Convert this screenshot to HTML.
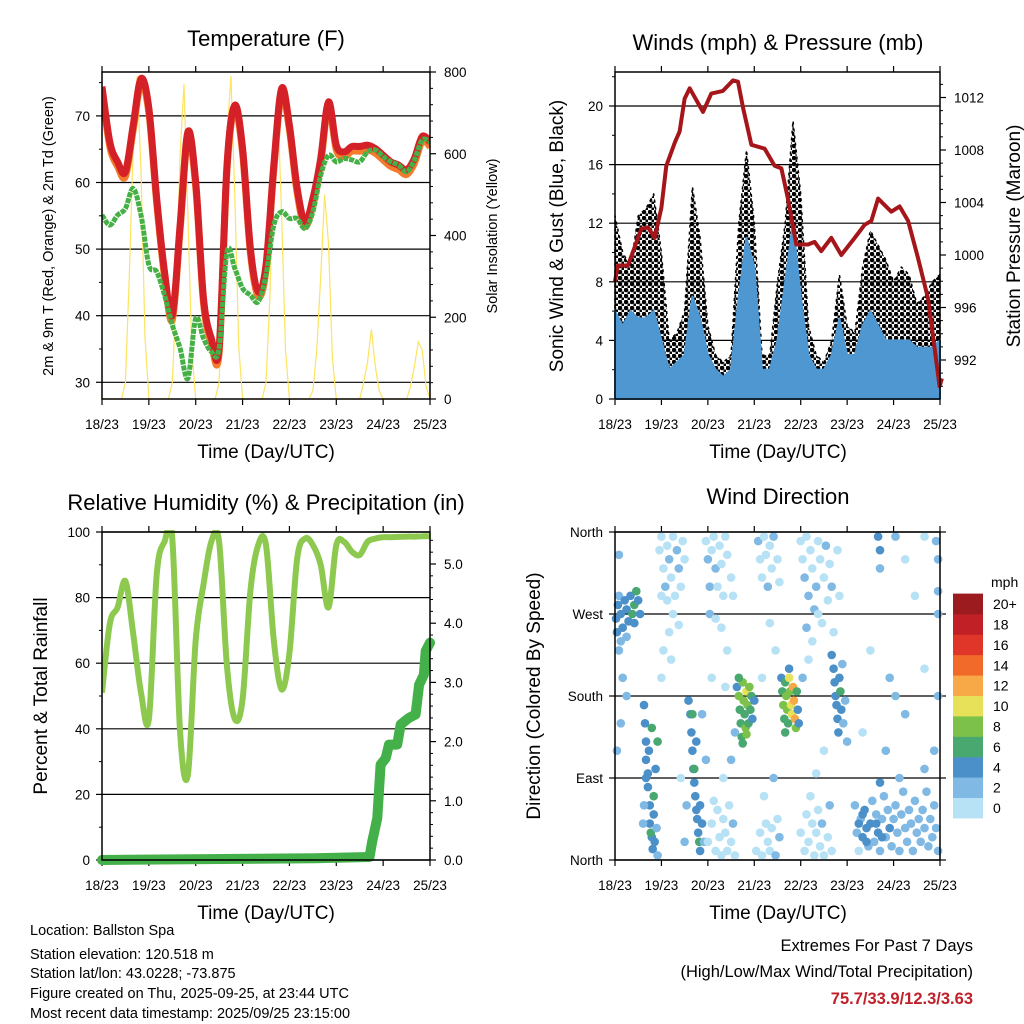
<!DOCTYPE html>
<html><head><meta charset="utf-8">
<style>
html,body{margin:0;padding:0;background:#fff;}
svg{display:block;font-family:"Liberation Sans",sans-serif;}
</style></head>
<body>
<svg id="chart" width="1024" height="1024" viewBox="0 0 1024 1024" xmlns="http://www.w3.org/2000/svg">
<defs>
<pattern id="dots" width="6" height="6" patternUnits="userSpaceOnUse">
<circle cx="2" cy="2" r="2.3" fill="#000"/>
<circle cx="5" cy="5" r="1.6" fill="#000"/>
</pattern>
<clipPath id="clipTop"><rect x="102" y="70" width="328" height="331"/></clipPath>
<clipPath id="clipBot"><rect x="102" y="530" width="328" height="331"/></clipPath>
</defs>
<rect width="1024" height="1024" fill="#fff"/>
<g id="p1"></g>
<g id="p2"></g>
<g id="p3"></g>
<g id="p4"></g>
<g font-size="22" text-anchor="middle" fill="#000">
<text x="266" y="46">Temperature (F)</text>
<text x="778" y="50">Winds (mph) &amp; Pressure (mb)</text>
<text x="266" y="510">Relative Humidity (%) &amp; Precipitation (in)</text>
<text x="778" y="504">Wind Direction</text>
</g>
<g font-size="19" text-anchor="middle" fill="#000">
<text x="266" y="458">Time (Day/UTC)</text>
<text x="778" y="458">Time (Day/UTC)</text>
<text x="266" y="919">Time (Day/UTC)</text>
<text x="778" y="919">Time (Day/UTC)</text>
<text transform="translate(53,236) rotate(-90)" font-size="14.5">2m &amp; 9m T (Red, Orange) &amp; 2m Td (Green)</text>
<text transform="translate(497,236) rotate(-90)" font-size="14.5">Solar Insolation (Yellow)</text>
<text transform="translate(563,236) rotate(-90)">Sonic Wind &amp; Gust (Blue, Black)</text>
<text transform="translate(1020,236) rotate(-90)">Station Pressure (Maroon)</text>
<text transform="translate(47,696) rotate(-90)">Percent &amp; Total Rainfall</text>
<text transform="translate(540,696) rotate(-90)">Direction (Colored By Speed)</text>
</g>
<g font-size="14.5" fill="#000">
<text x="30" y="935">Location: Ballston Spa</text>
<text x="30" y="959">Station elevation: 120.518 m</text>
<text x="30" y="978">Station lat/lon: 43.0228; -73.875</text>
<text x="30" y="998">Figure created on Thu, 2025-09-25, at 23:44 UTC</text>
<text x="30" y="1018">Most recent data timestamp: 2025/09/25 23:15:00</text>
</g>
<g font-size="16.5" text-anchor="end" fill="#000">
<text x="973" y="951">Extremes For Past 7 Days</text>
<text x="973" y="977">(High/Low/Max Wind/Total Precipitation)</text>
<text x="973" y="1004" fill="#c0202a" font-weight="bold">75.7/33.9/12.3/3.63</text>
</g>
<text x="991" y="587" font-size="14">mph</text>
</svg>
<script>
// ---------- data ----------
const dayLabels = ["18/23","19/23","20/23","21/23","22/23","23/23","24/23","25/23"];
const stepHours = 4;
const tempRed = [74.4,66.1,63.1,61.6,68.6,75.6,71.1,57.6,46.6,40.1,53.6,67.6,60.1,42.6,36.6,35.1,62.6,71.6,65.1,50.1,43.6,47.6,62.6,74.1,68.6,59.1,54.1,57.6,63.6,72.1,65.6,64.6,65.4,65.4,65.6,65.1,64.1,63.1,62.6,61.9,63.6,66.9,66.1];
const dewGreen = [55.1,53.6,55.1,56.1,59.1,55.1,47.6,46.6,43.1,38.6,35.1,30.6,39.6,36.6,34.6,35.1,49.6,47.1,44.1,43.1,42.1,46.1,53.6,55.6,54.6,54.6,53.1,55.6,61.1,64.1,63.1,63.6,63.4,63.1,64.6,64.9,63.9,63.1,62.6,61.6,63.4,66.4,66.1];
const solarStep = 2;
const solar = [0,0,0,0,0,0,40,300,620,790,560,150,
 0,0,0,0,0,0,40,250,600,770,450,120,
 0,0,0,0,0,0,40,300,640,790,500,130,
 0,0,0,0,0,0,40,250,600,730,450,120,
 0,0,0,0,0,0,20,120,300,500,380,100,
 0,0,0,0,0,0,0,40,90,170,80,20,
 0,0,0,0,0,0,0,30,80,140,120,30,0];
const gust = [12.5,10,9,12.5,13,14,10,4,4.5,6,14.5,11,5,3,2.5,3,12,17,12,3,3,8,12,19,14,5,3,2.5,4,8.5,5,4.5,9,11.5,10.5,9.5,8,9,8.5,6.5,7,8,8.5];
const sonic = [6,5,6,5.5,5.5,6,4,2,2.5,3,7,5.5,3,2,1.5,2,7,11,9,2,2,4,8,12,7,3,2,2,3,5.5,3,3,5,6,5,4,4,4,4,3.5,3.5,3.5,4];
const presHours = [0,1.5,6.7,13.6,17.1,20.5,24,26.5,31,33.4,36,38.6,45.5,49.8,55.8,61,63.6,66.2,70.5,77.4,82.5,86,89.4,93.7,99.8,103.2,106.6,111.8,117,123.9,129,132.5,136,142.8,147.1,151.5,156.6,161.8,165.2,167.8,169];
const pressure = [998.0,999.2,999.2,1002.0,1002.1,1001.3,1003.6,1006.8,1008.6,1009.4,1011.9,1012.7,1010.9,1012.3,1012.5,1013.3,1013.2,1011.2,1008.4,1008.1,1006.8,1006.6,1004.3,1000.8,1000.8,1001.0,1000.3,1001.3,1000.0,1001.3,1002.3,1002.6,1004.3,1003.3,1003.7,1002.6,999.8,996.7,992.9,990.0,990.6];
const rh = [51,72,77,85,69,51,43,87,97,98,39,26,67,84,97,97,59,43,49,82,96,96,67,52,63,92,98,96,90,77,96,97,94,93,97,98,98.4,98.4,98.5,98.6,98.6,98.7,98.7];
const rainHours = [0,109,137,138.4,141,142.7,145.3,147,151.2,153,157.2,160.6,162.4,164.9,165.8,168];
const rain = [0,0.03,0.05,0.31,0.71,1.61,1.72,1.95,1.95,2.29,2.4,2.46,2.96,3.13,3.53,3.67];
const dirHours = [0.5,1,1.5,2,3,4,5,6,7,8,9,10,11,12,13,3,6,10,2,4,3,1,2,6,
15,15.5,16,16,17,17,18,18,19,19.5,20,20,21,22,16,17.5,18.5,20.5,21.5,22,19,15,14.5,
23,24,25,26,27,28,29,30,31,32,33,34,35,36,24,27,30,33,28,25,29,24,
38,39,39.5,40,40.5,41,41.5,42,42.5,43,43.5,44,40,42,44,45,41,46,45,47,37,36,34,
47,48,49,50,51,52,53,54,55,56,57,58,60,61,49,52,55,58,50,57,
48,50,52,53,54,55,56,57,58,59,60,61,62,51,56,60,62,
63,64,64.5,65,65.5,66,66.5,67,67.5,68,68.5,69,69.5,70,70.5,71,72,66,68,64,
74,75,76,77,78,79,80,81,82,84,85,80,83,76,
73,75,76,78,79,80,81,83,84,85,77,82,
86,86.5,87,87.5,88,88.5,89,89.5,90,90.5,91,91.5,92,92.5,93,93.5,94,94.5,95,88,90,
96,97,98,99,100,101,102,103,104,105,106,107,108,109,110,111,112,113,115,116,99,102,105,97,100,
96,98,99,100,101,102,103,104,105,106,107,108,110,111,112,104,108,
112,113,113.5,114,114.5,115,115.5,116,116.5,117,117.5,118,119,120,
124,125,126,127,128,129,130,131,132,133,134,135,136,137,138,139,140,141,142,143,144,145,146,147,148,149,150,151,152,153,154,155,156,157,158,159,160,161,162,163,164,165,166,167,126,128,130,135,138,
136,137,137,145,150,155,160,166,167,167,167,167,160,150,145,140,142,128,132,160,165,137,147];
const dirDeg = [265,250,280,290,270,255,285,275,262,290,270,280,295,285,270,240,245,260,230,200,150,120,335,180,
170,150,130,110,95,80,60,40,25,12,70,50,100,130,90,120,30,20,35,5,145,60,40,
340,355,320,300,345,330,310,355,290,340,320,300,350,330,290,285,270,258,250,230,220,200,
175,160,140,120,100,85,70,55,45,30,20,10,160,130,60,40,100,20,160,110,60,20,90,
350,330,300,340,355,320,300,345,325,290,355,335,310,290,270,265,255,230,200,190,
20,40,10,55,25,5,45,30,10,60,20,40,5,65,90,110,140,
190,180,165,150,135,195,175,160,145,185,170,150,190,165,180,155,175,128,138,200,
350,330,310,355,335,300,345,320,355,330,305,260,230,200,
10,30,5,40,20,10,35,5,45,25,70,90,
200,185,170,155,195,180,165,150,200,185,170,160,190,175,155,145,185,165,150,140,210,
350,330,310,355,290,340,320,275,300,350,330,260,310,345,285,325,300,250,340,290,255,240,270,200,220,
30,10,50,20,70,40,5,30,55,15,40,5,25,60,10,95,120,
225,210,195,180,170,155,140,200,185,165,215,150,175,130,
60,30,10,45,25,55,35,15,40,65,20,50,30,10,45,70,25,55,35,15,45,60,30,10,50,75,35,20,55,40,10,65,30,45,20,55,35,75,15,45,25,60,35,10,40,50,20,40,25,
355,340,320,355,330,290,355,350,330,295,270,180,210,160,180,120,200,140,230,100,120,85,90];
const dirSpeed = [4,4,4,3,4,4,4,5,4,4,6,6,6,4,4,3,3,4,2,2,2,2,2,2,
4,4,4,5,4,5,4,4,4,4,6,5,4,6,4,4,6,4,3,3,6,3,3,
1,1,1,2,1,2,1,1,1,3,2,1,1,1,1,1,1,1,1,1,1,1,
4,4,4,4,4,4,4,4,5,4,6,4,6,4,4,4,6,3,2,2,2,2,1,
1,2,3,1,1,2,1,1,1,1,1,1,1,1,2,1,1,1,1,1,
1,1,1,1,1,1,1,1,1,1,1,2,1,1,1,2,3,
4,8,6,7,6,8,9,7,8,10,9,7,9,6,7,5,4,6,9,6,
2,1,1,1,1,2,1,1,2,1,1,1,1,1,
1,1,1,1,1,1,1,2,1,2,1,2,
4,6,8,7,6,9,8,7,10,9,11,10,12,13,12,8,6,5,4,6,4,
1,1,2,1,3,1,1,3,2,1,1,1,1,3,1,1,3,1,1,1,2,1,1,2,1,
1,1,1,1,1,1,1,1,1,1,2,1,1,2,1,1,1,
4,4,4,4,4,4,4,4,6,4,3,3,2,2,
2,2,1,3,4,4,4,3,4,3,3,3,4,2,3,2,3,3,4,2,3,2,3,2,3,2,3,2,3,3,2,2,3,3,2,2,3,2,2,3,2,2,3,2,4,4,4,4,4,
4,4,3,2,1,1,1,2,2,2,3,3,1,2,2,2,2,1,1,3,2,4,3];
const speedColors = ["#b7e2f6","#7fb9e4","#4b90c8","#49a870","#7cc24a","#e7e15a","#f8a947","#f26a2a","#e0362a","#c12026","#9b1b1e"];
const speedLabels = ["0","2","4","6","8","10","12","14","16","18","20+"];

// ---------- helpers ----------
const NS = "http://www.w3.org/2000/svg";
function mk(parent, tag, attrs, txt){
  const e = document.createElementNS(NS, tag);
  for (const k in attrs) e.setAttribute(k, attrs[k]);
  if (txt !== undefined) e.textContent = txt;
  parent.appendChild(e);
  return e;
}
function hx(P, h){ return P.x0 + h * (P.x1 - P.x0) / 168; }
function linePts(P, hours, vals, yf){ return hours.map((h,i)=>hx(P,h).toFixed(1)+","+yf(vals[i]).toFixed(1)).join(" "); }
function smoothPath(P, hours, vals, yf){
  const p = hours.map((h,i)=>[hx(P,h), yf(vals[i])]);
  let d = "M"+p[0][0].toFixed(1)+","+p[0][1].toFixed(1);
  for (let i=0;i<p.length-1;i++){
    const p0=p[Math.max(0,i-1)], p1=p[i], p2=p[i+1], p3=p[Math.min(p.length-1,i+2)];
    const c1=[p1[0]+(p2[0]-p0[0])/6, p1[1]+(p2[1]-p0[1])/6];
    const c2=[p2[0]-(p3[0]-p1[0])/6, p2[1]-(p3[1]-p1[1])/6];
    d += " C"+c1.map(v=>v.toFixed(1)).join(",")+" "+c2.map(v=>v.toFixed(1)).join(",")+" "+p2[0].toFixed(1)+","+p2[1].toFixed(1);
  }
  return d;
}
function stepHoursArr(vals, step){ return vals.map((v,i)=>i*step); }

function frame(g, P, leftTicks, leftFmt, yl, rightTicks, rightFmt, yr, leftMinor, rightMinor, grid){
  if (grid) leftTicks.forEach(v=>{
    const l = mk(g,"line",{x1:P.x0,x2:P.x1,y1:yl(v),y2:yl(v),stroke:"#000","stroke-width":1.2});
    
    
  });
  dayLabels.forEach((d,i)=>{
    const x = hx(P, i*24);
    mk(g,"line",{x1:x,x2:x,y1:P.y1,y2:P.y1+6,stroke:"#000","stroke-width":1.2});
    mk(g,"line",{x1:x,x2:x,y1:P.y0,y2:P.y0-6,stroke:"#000","stroke-width":1.2});
    const t = mk(g,"text",{x:x,y:P.y1+30,"font-size":13.5,"text-anchor":"middle"},d);
    
    
  });
  leftTicks.forEach(v=>{
    mk(g,"line",{x1:P.x0-6,x2:P.x0,y1:yl(v),y2:yl(v),stroke:"#000","stroke-width":1.2});
    const t = mk(g,"text",{x:P.x0-12,y:yl(v)+5,"font-size":13.5,"text-anchor":"end"},leftFmt(v));
    
    
  });
  leftMinor.forEach(v=>mk(g,"line",{x1:P.x0-3,x2:P.x0,y1:yl(v),y2:yl(v),stroke:"#000","stroke-width":1}));
  rightTicks.forEach(v=>{
    mk(g,"line",{x1:P.x1,x2:P.x1+6,y1:yr(v),y2:yr(v),stroke:"#000","stroke-width":1.2});
    const t = mk(g,"text",{x:P.x1+14,y:yr(v)+5,"font-size":13.5,"text-anchor":"start"},rightFmt(v));
    
    
  });
  rightMinor.forEach(v=>mk(g,"line",{x1:P.x1,x2:P.x1+3,y1:yr(v),y2:yr(v),stroke:"#000","stroke-width":1}));
}
function border(g,P){
  const r = mk(g,"rect",{x:P.x0,y:P.y0,width:P.x1-P.x0,height:P.y1-P.y0,fill:"none",stroke:"#000","stroke-width":1.5});
  
  
}
function range(a,b,s){ const r=[]; for(let v=a; v<=b+1e-9; v+=s) r.push(+v.toFixed(3)); return r; }

// ---------- panel 1 ----------
(function(){
  const g = document.getElementById("p1");
  const P = {x0:102,x1:430,y0:72,y1:399};
  const yT = t => 382.3 - (t-30)*6.66;
  const yS = s => 399 - s*327/800;
  frame(g,P,[30,40,50,60,70],v=>v,yT,[0,200,400,600,800],v=>v,yS,range(35,75,10),range(40,760,40).filter(v=>v%200),true);
  const cg = mk(g,"g",{"clip-path":"url(#clipTop)"});
  
  
  const sp = mk(cg,"polyline",{points:linePts(P,stepHoursArr(solar,solarStep),solar,yS),fill:"none",stroke:"#fde35e","stroke-width":1.2});
  
  
  const th = stepHoursArr(tempRed,stepHours);
  const o = mk(cg,"path",{d:smoothPath(P,th,tempRed.map(v=>v-0.7),yT),fill:"none",stroke:"#f37b2b","stroke-width":7,"stroke-linejoin":"round"});
  
  
  const r = mk(cg,"path",{d:smoothPath(P,th,tempRed,yT),fill:"none",stroke:"#d42027","stroke-width":7,"stroke-linejoin":"round"});
  
  
  const d = mk(cg,"path",{d:smoothPath(P,th,dewGreen,yT),fill:"none",stroke:"#45b045","stroke-width":5,"stroke-linejoin":"round","stroke-dasharray":"5 1"});
  
  
  border(g,P);
})();

// ---------- panel 2 ----------
(function(){
  const g = document.getElementById("p2");
  const P = {x0:615,x1:940,y0:72,y1:399};
  const yW = w => 399 - w*14.65;
  const yP = p => 360 - (p-992)*13.125;
  frame(g,P,[0,4,8,12,16,20],v=>v,yW,[992,996,1000,1004,1008,1012],v=>v,yP,range(2,22,4),range(990,1013,1).filter(v=>v%4),true);
  const h = stepHoursArr(gust,stepHours);
  const base = hx(P,0).toFixed(1)+","+yW(0)+" ", end = " "+hx(P,168).toFixed(1)+","+yW(0);
  const gp = mk(g,"polygon",{points:base+linePts(P,h,gust,yW)+end,fill:"url(#dots)",stroke:"#000","stroke-width":1.5,"stroke-dasharray":"3 4","stroke-linejoin":"round"});
  
  
  const bp = mk(g,"polygon",{points:base+linePts(P,h,sonic,yW)+end,fill:"#4f97d1",stroke:"#4f97d1","stroke-width":2,"stroke-linejoin":"round"});
  
  
  const pl = mk(g,"polyline",{points:linePts(P,presHours,pressure,yP),fill:"none",stroke:"#a5161b","stroke-width":4,"stroke-linejoin":"round"});
  
  
  border(g,P);
})();

// ---------- panel 3 ----------
(function(){
  const g = document.getElementById("p3");
  const P = {x0:102,x1:430,y0:532,y1:860};
  const yH = v => 860 - v*3.28;
  const yR = v => 860 - v*59.2;
  frame(g,P,[0,20,40,60,80,100],v=>v,yH,[0,1,2,3,4,5],v=>v.toFixed(1),yR,range(10,90,20),range(0.2,5.4,0.2).filter(v=>Math.abs(v-Math.round(v))>0.01),true);
  const cg = mk(g,"g",{"clip-path":"url(#clipBot)"});
  
  
  const hl = mk(cg,"path",{d:smoothPath(P,stepHoursArr(rh,stepHours),rh,yH),fill:"none",stroke:"#8dc94e","stroke-width":6,"stroke-linejoin":"round"});
  
  
  const rl = mk(g,"polyline",{points:linePts(P,rainHours,rain,yR),fill:"none",stroke:"#44b049","stroke-width":10,"stroke-linejoin":"round","stroke-linecap":"round"});
  
  
  border(g,P);
})();

// ---------- panel 4 ----------
(function(){
  const g = document.getElementById("p4");
  const P = {x0:615,x1:940,y0:532,y1:860};
  const yD = d => 860 - d*328/360;
  const names = {0:"North",90:"East",180:"South",270:"West",360:"North"};
  frame(g,P,[0,90,180,270,360],v=>names[v],yD,[],v=>v,yD,[],[],true);
  [0,90,180,270,360].forEach(v=>mk(g,"line",{x1:P.x1,x2:P.x1+6,y1:yD(v),y2:yD(v),stroke:"#000","stroke-width":1.2}));
  dirHours.forEach((h,i)=>{
    const ci = Math.min(10, Math.floor(dirSpeed[i]/2));
    const c = mk(g,"circle",{cx:hx(P,h).toFixed(1),cy:yD(dirDeg[i]).toFixed(1),r:4.3,fill:speedColors[ci]});
    
    
  });
  border(g,P);
  speedColors.forEach((col,i)=>{
    const y = 818 - (i+1)*20.4;
    const b = mk(g,"rect",{x:953,y:y.toFixed(1),width:30,height:20.8,fill:col});
    
    
    const t = mk(g,"text",{x:993,y:(y+15.5).toFixed(1),"font-size":14},speedLabels[i]);
    
    
  });
})();
</script>
</body></html>
